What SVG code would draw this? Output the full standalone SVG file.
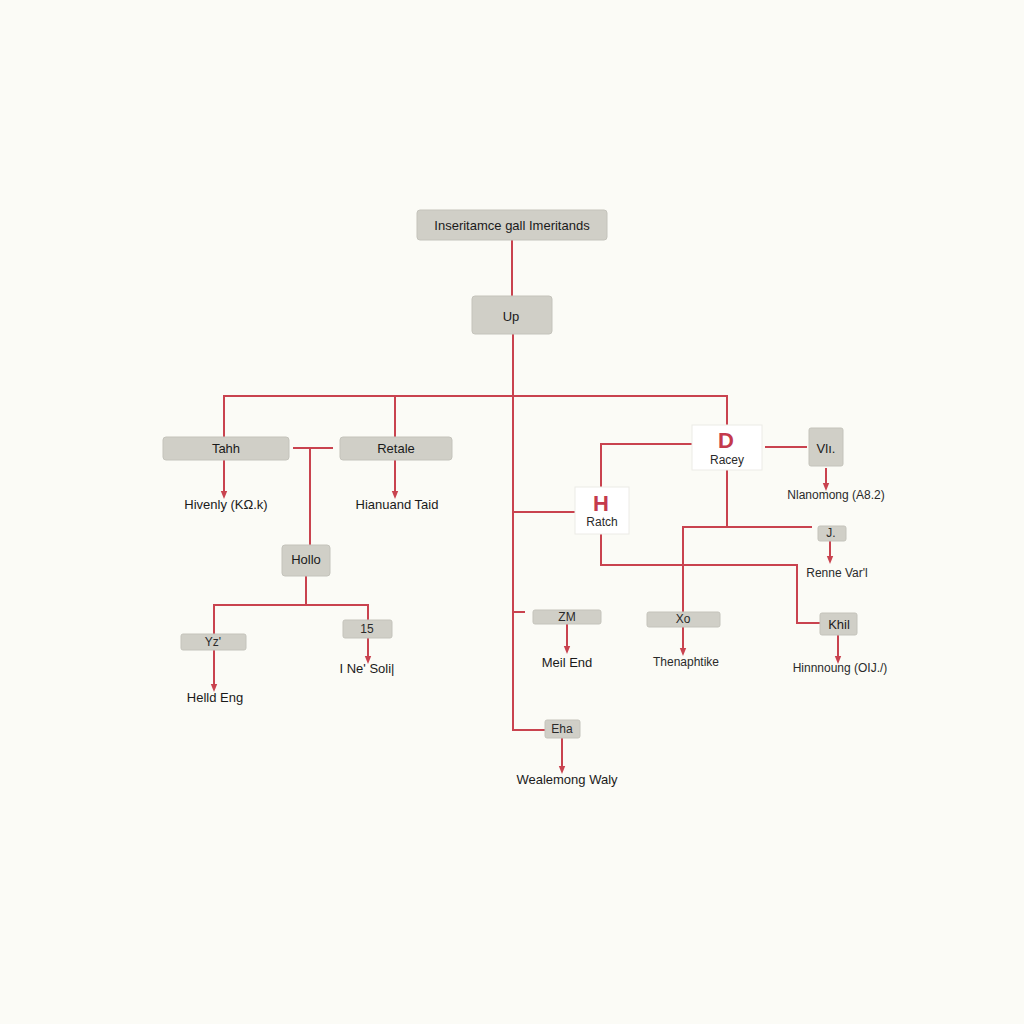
<svg xmlns="http://www.w3.org/2000/svg" width="1024" height="1024" viewBox="0 0 1024 1024">
<style>
.bg{fill:#fbfbf6}
.box{fill:#d0cfc7;stroke:#c4c3bb;stroke-width:1}
.wbox{fill:#ffffff;stroke:#ecebe6;stroke-width:1}
.ln{fill:none;stroke:#c9434f;stroke-width:2}
.t{font-family:"Liberation Sans",Arial,sans-serif;font-size:13px;fill:#1a1a1a;text-anchor:middle;dominant-baseline:central}
.tb{font-family:"Liberation Sans",Arial,sans-serif;font-size:12px;fill:#2a2a2a;text-anchor:middle;dominant-baseline:central}
.big{font-family:"Liberation Sans",Arial,sans-serif;font-size:22px;font-weight:bold;fill:#c43a4c;text-anchor:middle;dominant-baseline:central}
</style>
<defs>
<marker id="ah" viewBox="0 0 10 10" refX="5" refY="5" markerWidth="4" markerHeight="4" orient="auto">
<path d="M0,1 L10,5 L0,9 z" fill="#c9434f"/>
</marker>
</defs>
<rect class="bg" x="0" y="0" width="1024" height="1024"/>
<g id="connectors">
<path class="ln" d="M512,240 V296"/>
<path class="ln" d="M513,334 V730 H545"/>
<path class="ln" d="M224,437 V396 H727 V425"/>
<path class="ln" d="M395,396 V437"/>
<path class="ln" d="M224,460 V495" marker-end="url(#ah)"/>
<path class="ln" d="M395,460 V495" marker-end="url(#ah)"/>
<path class="ln" d="M293,448 H333"/>
<path class="ln" d="M310,448 V545"/>
<path class="ln" d="M306,576 V605"/>
<path class="ln" d="M214,634 V605 H368 V620"/>
<path class="ln" d="M214,650 V688" marker-end="url(#ah)"/>
<path class="ln" d="M368,638 V660" marker-end="url(#ah)"/>
<path class="ln" d="M513,512 H575"/>
<path class="ln" d="M513,612 H525"/>
<path class="ln" d="M567,624 V650" marker-end="url(#ah)"/>
<path class="ln" d="M562,738 V770" marker-end="url(#ah)"/>
<path class="ln" d="M692,444 H601 V487"/>
<path class="ln" d="M601,534 V565 H797 V623 H820"/>
<path class="ln" d="M838,635 V660" marker-end="url(#ah)"/>
<path class="ln" d="M765,447 H807"/>
<path class="ln" d="M826,468 V487" marker-end="url(#ah)"/>
<path class="ln" d="M727,470 V527"/>
<path class="ln" d="M683,612 V527 H812"/>
<path class="ln" d="M830,541 V560" marker-end="url(#ah)"/>
<path class="ln" d="M683,627 V652" marker-end="url(#ah)"/>
</g>
<g id="root"><rect class="box" x="417" y="210" width="190" height="30" rx="3"/><text class="t" x="512" y="225">Inseritamce gall Imeritands</text></g>
<g id="up"><rect class="box" x="472" y="296" width="80" height="38" rx="3"/><text class="t" x="511" y="316" font-size="15">Up</text></g>
<g id="tahh"><rect class="box" x="163" y="437" width="126" height="23" rx="3"/><text class="t" x="226" y="448">Tahh</text></g>
<g id="hivenly"><text class="t" x="226" y="504">Hivenly (KΩ.k)</text></g>
<g id="retale"><rect class="box" x="340" y="437" width="112" height="23" rx="3"/><text class="t" x="396" y="448">Retale</text></g>
<g id="hianuand"><text class="t" x="397" y="504">Hianuand Taid</text></g>
<g id="hollo"><rect class="box" x="282" y="545" width="48" height="31" rx="3"/><text class="t" x="306" y="559">Hollo</text></g>
<g id="yz"><rect class="box" x="181" y="634" width="65" height="16" rx="2"/><text class="tb" x="213" y="642">Yz'</text></g>
<g id="helld"><text class="t" x="215" y="697">Helld Eng</text></g>
<g id="n15"><rect class="box" x="343" y="620" width="49" height="18" rx="2"/><text class="tb" x="367" y="629">15</text></g>
<g id="nesoli"><text class="t" x="367" y="668">I Ne' Soli|</text></g>
<g id="zm"><rect class="box" x="533" y="610" width="68" height="14" rx="2"/><text class="tb" x="567" y="617">ZM</text></g>
<g id="meil"><text class="t" x="567" y="662">Meil End</text></g>
<g id="eha"><rect class="box" x="545" y="720" width="35" height="18" rx="2"/><text class="tb" x="562" y="729">Eha</text></g>
<g id="wealemong"><text class="t" x="567" y="779">Wealemong Waly</text></g>
<g id="d"><rect class="wbox" x="692" y="425" width="70" height="45"/><text class="big" x="726" y="440">D</text><text class="tb" x="727" y="460">Racey</text></g>
<g id="h"><rect class="wbox" x="575" y="487" width="54" height="47"/><text class="big" x="601" y="503">H</text><text class="tb" x="602" y="522">Ratch</text></g>
<g id="vli"><rect class="box" x="809" y="428" width="34" height="38" rx="2"/><text class="t" x="826" y="448">Vlı.</text></g>
<g id="nlanomong"><text class="tb" x="836" y="495">Nlanomong (A8.2)</text></g>
<g id="j"><rect class="box" x="818" y="526" width="28" height="15" rx="2"/><text class="tb" x="831" y="533">J.</text></g>
<g id="renne"><text class="tb" x="837" y="573">Renne Var'l</text></g>
<g id="xo"><rect class="box" x="647" y="612" width="73" height="15" rx="2"/><text class="tb" x="683" y="619">Xo</text></g>
<g id="thenaphtike"><text class="tb" x="686" y="662">Thenaphtike</text></g>
<g id="khil"><rect class="box" x="820" y="613" width="37" height="22" rx="2"/><text class="t" x="839" y="624">Khil</text></g>
<g id="hinnnoung"><text class="tb" x="840" y="668">Hinnnoung (OIJ./)</text></g>
</svg>
